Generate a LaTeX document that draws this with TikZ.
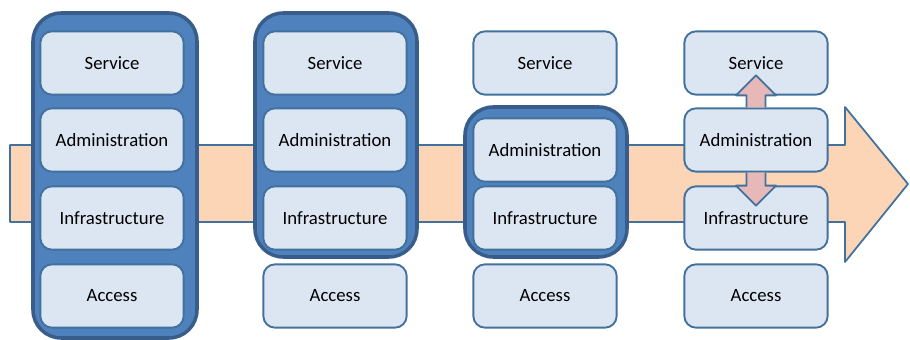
\documentclass[tikz,border=0pt]{standalone}
\usepackage{fontspec}
\setmainfont{Carlito}
\definecolor{bandfill}{HTML}{FBD5B5}
\definecolor{bandline}{HTML}{41719C}
\definecolor{layerfill}{HTML}{DCE6F2}
\definecolor{layerline}{HTML}{41719C}
\definecolor{groupfill}{HTML}{4F81BD}
\definecolor{groupline}{HTML}{385D8A}
\definecolor{movefill}{HTML}{E6B9B8}
\begin{document}
\begin{tikzpicture}[x=0.03cm,y=-0.03cm,line join=round,
	layer/.style={draw=layerline,fill=layerfill,line width=1.6pt,rounded corners=10pt,
		minimum width=4.3cm,minimum height=1.9cm,font=\fontsize{16}{19}\selectfont},
	group/.style={draw=groupline,fill=groupfill,line width=3pt,rounded corners=24pt},
	move/.style={draw=layerline,fill=movefill,line width=1.6pt}]
	\useasboundingbox (0,0) rectangle (910,340);
	% band arrow
	\filldraw[draw=bandline,fill=bandfill,line width=1.5pt] (10,145)--(845,145)--(845,107)--(908,184)--(845,262)--(845,222)--(10,222)--cycle;
	% groups
	\filldraw[group] (33,13) rectangle (197,338);
	\filldraw[group] (255,13) rectangle (417,257);
	\filldraw[group] (465,107) rectangle (627,257);
	% column 1
	\node[layer] (svc1) at (112,63) {Service};
	\node[layer] (adm1) at (112,140) {Administration};
	\node[layer] (inf1) at (112,218) {Infrastructure};
	\node[layer] (acc1) at (112,296) {Access};
	% column 2
	\node[layer] (svc2) at (335,63) {Service};
	\node[layer] (adm2) at (335,140) {Administration};
	\node[layer] (inf2) at (335,218) {Infrastructure};
	\node[layer] (acc2) at (335,296) {Access};
	% column 3
	\node[layer] (svc3) at (545,63) {Service};
	\node[layer] (adm3) at (545,150) {Administration};
	\node[layer] (inf3) at (545,218) {Infrastructure};
	\node[layer] (acc3) at (545,296) {Access};
	% column 4
	\node[layer] (svc4) at (756,63) {Service};
	\node[layer] (adm4) at (756,140) {Administration};
	\node[layer] (inf4) at (756,218) {Infrastructure};
	\node[layer] (acc4) at (756,296) {Access};
	% moves
	\begin{scope}[shift={(adm4.north)}]
		\filldraw[move] (-9.5,0)--(-9.5,-12)--(-20,-12)--(0,-32)--(20,-12)--(9.5,-12)--(9.5,0);
	\end{scope}
	\begin{scope}[shift={(adm4.south)}]
		\filldraw[move] (-9.5,0)--(-9.5,13)--(-20,13)--(0,33)--(20,13)--(9.5,13)--(9.5,0);
	\end{scope}
\end{tikzpicture}
\end{document}
